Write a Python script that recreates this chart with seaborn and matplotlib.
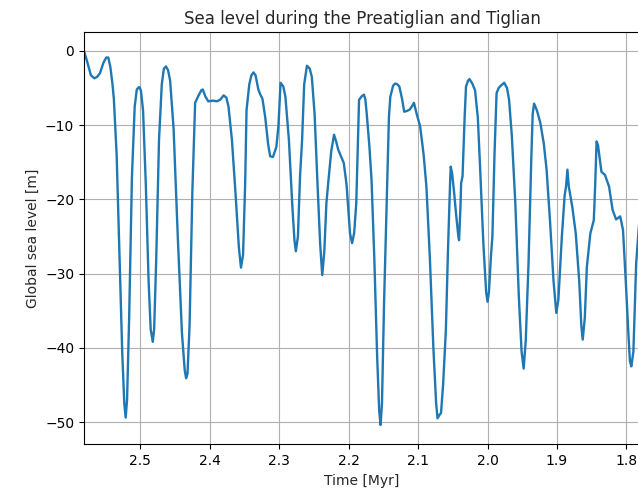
import matplotlib
matplotlib.use("Agg")
import matplotlib.pyplot as plt
import seaborn as sns
import pandas as pd

# Global sea level reconstruction, Preatiglian to Tiglian (time in Myr before present)
time_myr = [
    2.581, 2.576, 2.571, 2.566, 2.562, 2.558, 2.553, 2.549, 2.546, 2.543, 2.540, 2.538,
    2.534, 2.530, 2.526, 2.523, 2.521, 2.519, 2.516, 2.512, 2.508, 2.505, 2.502, 2.501,
    2.499, 2.496, 2.492, 2.488, 2.485, 2.482, 2.480, 2.477, 2.473, 2.469, 2.466, 2.463,
    2.460, 2.457, 2.452, 2.446, 2.440, 2.436, 2.434, 2.432, 2.429, 2.425, 2.421, 2.416,
    2.412, 2.410, 2.406, 2.402, 2.395, 2.390, 2.385, 2.380, 2.376, 2.373, 2.368, 2.363,
    2.358, 2.355, 2.352, 2.349, 2.347, 2.343, 2.340, 2.337, 2.334, 2.330, 2.328, 2.324,
    2.320, 2.316, 2.313, 2.309, 2.306, 2.304, 2.301, 2.298, 2.294, 2.291, 2.286, 2.281,
    2.278, 2.276, 2.273, 2.270, 2.267, 2.264, 2.260, 2.256, 2.253, 2.249, 2.245, 2.241,
    2.238, 2.235, 2.232, 2.229, 2.225, 2.221, 2.218, 2.215, 2.211, 2.207, 2.203, 2.198,
    2.195, 2.192, 2.189, 2.187, 2.185, 2.181, 2.178, 2.176, 2.174, 2.170, 2.167, 2.163,
    2.159, 2.156, 2.154, 2.152, 2.149, 2.145, 2.142, 2.140, 2.136, 2.133, 2.130, 2.127,
    2.123, 2.120, 2.116, 2.112, 2.109, 2.106, 2.102, 2.097, 2.092, 2.088, 2.083, 2.078,
    2.074, 2.072, 2.069, 2.067, 2.064, 2.060, 2.057, 2.054, 2.053, 2.051, 2.048, 2.045,
    2.042, 2.041, 2.039, 2.038, 2.036, 2.033, 2.031, 2.028, 2.026, 2.022, 2.018, 2.014,
    2.011, 2.006, 2.002, 2.000, 1.998, 1.995, 1.993, 1.990, 1.987, 1.984, 1.981, 1.976,
    1.972, 1.969, 1.965, 1.960, 1.955, 1.951, 1.948, 1.945, 1.941, 1.937, 1.935, 1.933,
    1.929, 1.924, 1.919, 1.915, 1.910, 1.905, 1.901, 1.898, 1.893, 1.889, 1.887, 1.885,
    1.883, 1.878, 1.873, 1.868, 1.865, 1.863, 1.860, 1.857, 1.852, 1.847, 1.845, 1.843,
    1.841, 1.836, 1.831, 1.825, 1.820, 1.815, 1.812, 1.809, 1.805, 1.801, 1.797, 1.795,
    1.793, 1.790, 1.786, 1.782,
]
sea_level_m = [
    0.0, -1.6, -3.3, -3.7, -3.5, -3.0, -1.6, -0.9, -0.9, -2.2, -4.5, -6.5,
    -14.0, -27.0, -40.5, -47.5, -49.4, -47.0, -36.0, -17.0, -7.5, -5.2, -4.9, -4.9,
    -5.4, -8.0, -18.0, -31.0, -37.5, -39.2, -37.5, -28.0, -12.0, -4.5, -2.4, -2.1,
    -2.6, -4.0, -10.5, -25.0, -38.0, -43.0, -44.1, -43.5, -37.0, -19.0, -7.0, -6.0,
    -5.3, -5.2, -6.2, -6.8, -6.7, -6.8, -6.6, -6.0, -6.3, -7.5, -12.0, -19.0,
    -26.5, -29.2, -27.5, -18.0, -8.0, -4.5, -3.3, -2.9, -3.3, -5.2, -5.7, -6.5,
    -9.0, -12.5, -14.2, -14.3, -13.5, -12.9, -10.0, -4.3, -4.8, -6.2, -12.0, -21.0,
    -25.5, -27.0, -25.0, -17.0, -12.0, -4.5, -2.0, -2.4, -3.5, -8.5, -17.5, -26.0,
    -30.2, -27.0, -20.5, -17.4, -13.5, -11.3, -12.2, -13.3, -14.2, -15.1, -18.0, -24.6,
    -25.9, -24.5, -20.5, -13.5, -6.6, -6.1, -5.9, -6.5, -8.4, -13.0, -17.4, -28.0,
    -41.0, -48.5, -50.4, -47.5, -34.0, -19.6, -9.0, -6.2, -4.7, -4.4, -4.5, -4.8,
    -6.5, -8.2, -8.1, -7.9, -7.5, -7.0, -8.5, -10.2, -14.0, -18.3, -28.0, -40.0,
    -47.5, -49.5, -49.0, -48.8, -45.0, -37.6, -27.0, -18.0, -15.6, -16.5, -19.2, -22.3,
    -25.0, -25.5, -21.0, -17.8, -16.9, -9.0, -4.8, -4.0, -3.8, -4.4, -5.3, -9.0,
    -15.1, -26.0, -32.5, -33.8, -32.5, -27.5, -25.0, -14.0, -5.7, -5.0, -4.7, -4.3,
    -5.0, -6.6, -11.5, -20.5, -33.0, -40.5, -42.8, -39.0, -28.6, -14.5, -8.5, -7.1,
    -8.0, -9.7, -12.5, -16.0, -23.0, -31.0, -35.3, -33.5, -25.0, -19.5, -18.3, -16.0,
    -18.3, -21.0, -24.6, -31.0, -37.0, -38.9, -36.0, -29.1, -24.6, -22.8, -18.0, -12.2,
    -12.7, -16.3, -16.7, -18.3, -21.4, -22.7, -22.5, -22.3, -24.1, -31.0, -38.5, -41.8,
    -42.5, -40.5, -28.6, -23.5,
]

df = pd.DataFrame({"Time [Myr]": time_myr, "Global sea level [m]": sea_level_m})

sns.set_style("ticks")
plt.rcParams["font.family"] = ["DejaVu Sans"]

fig = plt.figure(figsize=(6.38, 4.95), dpi=100)
ax = fig.add_axes([84 / 638, 50.7 / 495, 556 / 638, 412 / 495])

sns.lineplot(data=df, x="Time [Myr]", y="Global sea level [m]", ax=ax,
             color="#1f77b4", linewidth=1.7, sort=False, estimator=None)

ax.set_xlim(2.581, 1.7805)
ax.set_ylim(-53.0, 2.5)
ax.set_xticks([2.5, 2.4, 2.3, 2.2, 2.1, 2.0, 1.9, 1.8])
ax.set_yticks([0, -10, -20, -30, -40, -50])
ax.grid(True, color="#b0b0b0", linewidth=0.8)
ax.set_axisbelow(True)
for side in ["top", "right", "bottom", "left"]:
    ax.spines[side].set_visible(True)
    ax.spines[side].set_color("black")
    ax.spines[side].set_linewidth(0.8)
ax.tick_params(direction="out", length=3.5, width=0.8, labelsize=10, colors="black")
ax.set_title("Sea level during the Preatiglian and Tiglian", fontsize=12)
ax.set_xlabel("Time [Myr]", fontsize=10)
ax.set_ylabel("Global sea level [m]", fontsize=10)

fig.savefig("out.png", dpi=100)
